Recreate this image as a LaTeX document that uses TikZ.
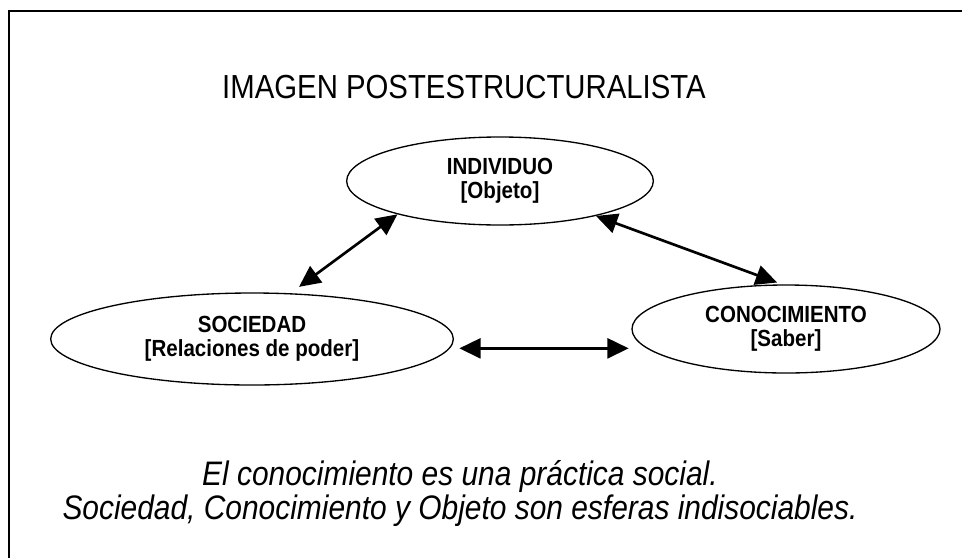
\documentclass[tikz,border=0pt]{standalone}
\usepackage{fontspec}
\setmainfont{Liberation Sans}[FakeStretch=0.88]
\usetikzlibrary{shapes.geometric,arrows.meta}
\begin{document}
\begin{tikzpicture}[x=0.75pt,y=-0.75pt]
        \tikzset{sphere/.style={draw,ellipse,line width=1pt,inner sep=0pt,
                align=center,font=\fontsize{17.5}{18}\selectfont\bfseries},
            link/.style={line width=2pt,{Triangle[length=16pt,width=15pt]}-{Triangle[length=16pt,width=15pt]}},
            caption/.style={align=center,inner sep=0pt,font=\fontsize{25}{25.5}\selectfont}}
        \useasboundingbox (0,0) rectangle (962,557);
        \draw[line width=2pt] (9,570) |- (975,11);
        \node[caption,anchor=base] (title) at (464,98) {IMAGEN POSTESTRUCTURALISTA};
        \node[sphere,minimum width=230pt,minimum height=66pt] (ind) at (500,181)
            {INDIVIDUO\\{}[Objeto]};
        \node[sphere,minimum width=302pt,minimum height=69pt] (soc) at (252,339)
            {SOCIEDAD\\{}[Relaciones de poder]};
        \node[sphere,minimum width=231pt,minimum height=66pt] (con) at (786,329)
            {CONOCIMIENTO\\{}[Saber]};
        \draw[link,shorten <=8pt] (soc.50) -- (ind.198);
        \draw[link,shorten >=4pt] (ind.-20) -- (con.95);
        \draw[link] ([xshift=4pt,yshift=-7pt]soc.east) -- ([xshift=-2pt,yshift=-7pt]soc.east -| con.west);
        \node[caption,font=\fontsize{25.5}{25.5}\selectfont\itshape] (note) at (460,493)
            {El conocimiento es una práctica social.\\
             Sociedad, Conocimiento y Objeto son esferas indisociables.};
    \end{tikzpicture}
\end{document}
